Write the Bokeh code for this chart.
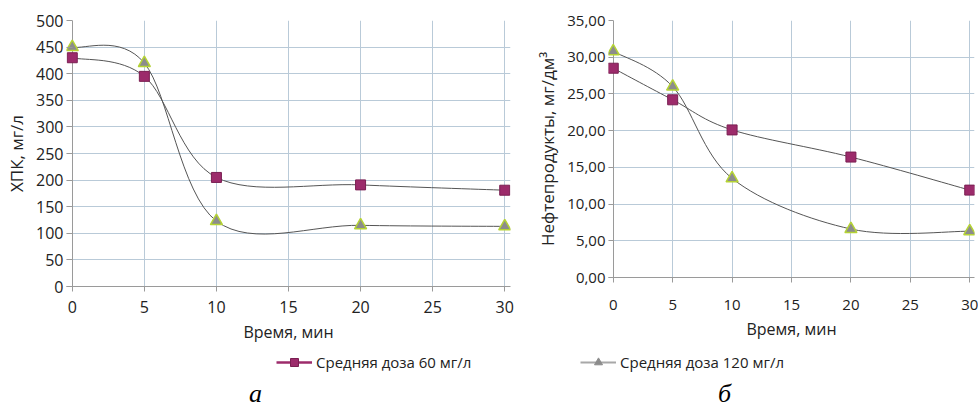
import numpy as np
from bokeh.plotting import figure
from bokeh.layouts import row, column
from bokeh.models import (Range1d, FixedTicker, Legend, LegendItem, Label,
                          ColumnDataSource, Grid)
from bokeh.embed import file_html
from bokeh.resources import INLINE

# ---------------- data ----------------
time_min = [0, 5, 10, 20, 30]
cod_60 = [430, 395, 205, 191, 181]
cod_120 = [450, 420, 123, 115, 113]
oil_60 = [28.5, 24.2, 20.1, 16.4, 11.9]
oil_120 = [30.8, 26.0, 13.5, 6.6, 6.3]

x_ticks = [0, 5, 10, 15, 20, 25, 30]
cod_ticks = [0, 50, 100, 150, 200, 250, 300, 350, 400, 450, 500]
oil_ticks = [0, 5, 10, 15, 20, 25, 30, 35]
oil_tick_labels = ["0,00", "5,00", "10,00", "15,00", "20,00", "25,00", "30,00", "35,00"]

series_labels = ["Средняя доза 60 мг/л", "Средняя доза 120 мг/л"]
x_title = "Время, мин"
cod_title = "ХПК, мг/л"
oil_title = "Нефтепродукты, мг/дм³"
panel_letters = ["а", "б"]

# ---------------- style ----------------
FONT = "Open Sans"
MAGENTA = "#9c2b6b"
MAGENTA_DARK = "#7a1f52"
TRI_FILL = "#8c8c8c"
TRI_LINE = "#b5d335"
CURVE = "#555555"
GRID = "#b9cad8"
GRID_WARM = "#e3b4a6"
AXIS = "#9a9a9a"
TEXT = "#222222"


def smooth_segments(xs, ys):
    """Bezier control points of a Catmull-Rom style smoothed line through the points."""
    x = np.asarray(xs, float)
    y = np.asarray(ys, float)
    xp = np.concatenate([[x[0]], x, [x[-1]]])
    yp = np.concatenate([[y[0]], y, [y[-1]]])
    d = dict(x0=[], y0=[], x1=[], y1=[], cx0=[], cy0=[], cx1=[], cy1=[])
    for i in range(len(x) - 1):
        d["x0"].append(x[i]); d["y0"].append(y[i])
        d["x1"].append(x[i + 1]); d["y1"].append(y[i + 1])
        d["cx0"].append(x[i] + (xp[i + 2] - xp[i]) / 6.0)
        d["cy0"].append(y[i] + (yp[i + 2] - yp[i]) / 6.0)
        d["cx1"].append(x[i + 1] - (xp[i + 3] - xp[i + 1]) / 6.0)
        d["cy1"].append(y[i + 1] - (yp[i + 3] - yp[i + 1]) / 6.0)
    return ColumnDataSource(d)


def make_panel(fw, fh, ml, mr, mb, y_end, y_ticks, y_title, s60, s120,
               tick_size, y_title_size, tick_in, x_label_standoff,
               y_overrides=None, warm_top=False):
    p = figure(frame_width=fw, frame_height=fh, output_backend="svg",
               toolbar_location=None,
               x_range=Range1d(-0.4, 30.4), y_range=Range1d(0, y_end),
               min_border_left=ml, min_border_right=mr, min_border_top=20,
               min_border_bottom=mb)
    p.outline_line_color = None
    p.background_fill_color = "white"
    p.border_fill_color = "white"

    # grids
    p.xgrid.ticker = FixedTicker(ticks=x_ticks)
    p.ygrid.ticker = FixedTicker(ticks=y_ticks)
    for g in (p.xgrid, p.ygrid):
        g.grid_line_color = GRID
        g.grid_line_width = 1
    if warm_top:
        p.add_layout(Grid(dimension=1, ticker=FixedTicker(ticks=[y_ticks[-1]]),
                          grid_line_color=GRID_WARM, grid_line_width=1), "center")
    p.add_layout(Grid(dimension=0, ticker=FixedTicker(ticks=[0]),
                      grid_line_color=AXIS, grid_line_width=1), "center")

    # axes
    p.xaxis.ticker = FixedTicker(ticks=x_ticks)
    p.yaxis.ticker = FixedTicker(ticks=y_ticks)
    if y_overrides:
        p.yaxis.major_label_overrides = y_overrides
    for ax in (p.xaxis, p.yaxis):
        ax.axis_line_color = AXIS
        ax.major_tick_line_color = AXIS
        ax.minor_tick_line_color = None
        ax.major_label_text_font = FONT
        ax.major_label_text_font_size = tick_size
        ax.major_label_text_color = TEXT
        ax.axis_label_text_font = FONT
        ax.axis_label_text_font_style = "normal"
        ax.axis_label_text_color = TEXT
    p.xaxis.major_tick_out = 5
    p.xaxis.major_tick_in = 0
    p.xaxis.major_label_standoff = x_label_standoff
    p.xaxis.axis_label = x_title
    p.xaxis.axis_label_text_font_size = "16px"
    p.xaxis.axis_label_standoff = 5
    # y axis line sits at the frame edge; ticks drawn inward reach the x=0 line
    p.yaxis.axis_line_color = None
    p.yaxis.major_tick_out = 0
    p.yaxis.major_tick_in = tick_in
    p.yaxis.major_label_standoff = 3
    p.yaxis.axis_label = y_title
    p.yaxis.axis_label_text_font_size = y_title_size
    p.yaxis.axis_label_standoff = 5

    # smoothed curves
    p.bezier(x0="x0", y0="y0", x1="x1", y1="y1", cx0="cx0", cy0="cy0",
             cx1="cx1", cy1="cy1", source=smooth_segments(time_min, s60),
             line_color=CURVE, line_width=1)
    p.bezier(x0="x0", y0="y0", x1="x1", y1="y1", cx0="cx0", cy0="cy0",
             cx1="cx1", cy1="cy1", source=smooth_segments(time_min, s120),
             line_color=CURVE, line_width=1)

    # markers
    p.scatter(time_min, s120, marker="triangle", size=12, fill_color=TRI_FILL,
              line_color=TRI_LINE, line_width=1.5)
    p.scatter(time_min, s60, marker="square", size=10, fill_color=MAGENTA,
              line_color=MAGENTA_DARK, line_width=1)
    return p


oil_overrides = {t: lab for t, lab in zip(oil_ticks, oil_tick_labels)}

left = make_panel(444, 266, 66, 10, 64, 500, cod_ticks, cod_title, cod_60, cod_120,
                  "16px", "17px", 6, 9, warm_top=True)
right = make_panel(366, 257, 88, 4, 73, 35, oil_ticks, oil_title, oil_60, oil_120,
                   "15px", "17px", 5, 17, y_overrides=oil_overrides)

# ---------------- legend / panel letters strip ----------------
foot = figure(width=978, height=60, output_backend="svg", toolbar_location=None,
              x_range=Range1d(0, 978), y_range=Range1d(0, 60),
              x_axis_type=None, y_axis_type=None, min_border=0)
foot.outline_line_color = None
foot.grid.visible = False

# legend proxies: styled glyphs with no drawable (NaN) point
nan = [np.nan]
l1 = foot.line(nan, nan, line_color=MAGENTA, line_width=2.5)
m1 = foot.scatter(nan, nan, marker="square", size=9, fill_color=MAGENTA,
                  line_color=MAGENTA_DARK)
l2 = foot.line(nan, nan, line_color="#a8a8a8", line_width=2)
m2 = foot.scatter(nan, nan, marker="triangle", size=12, fill_color=TRI_FILL,
                  line_color=TRI_FILL)

for items, loc in (([LegendItem(label=series_labels[0], renderers=[l1, m1])], (276, 38)),
                   ([LegendItem(label=series_labels[1], renderers=[l2, m2])], (580, 38))):
    foot.add_layout(Legend(items=items, location=loc, orientation="horizontal",
                           border_line_color=None, background_fill_alpha=0,
                           padding=0, margin=0, glyph_width=36, glyph_height=20,
                           label_height=20, label_standoff=4,
                           label_text_font=FONT, label_text_font_size="15px",
                           label_text_color=TEXT), "center")

for letter, lx in zip(panel_letters, (255, 724)):
    foot.add_layout(Label(x=lx, y=17, x_units="screen", y_units="screen",
                          text=letter, text_font="Liberation Serif",
                          text_font_style="italic", text_font_size="26px",
                          text_color="black", text_align="center",
                          text_baseline="middle"))

layout = column(row(left, right), foot)
open("out.html", "w").write(file_html(layout, INLINE))
